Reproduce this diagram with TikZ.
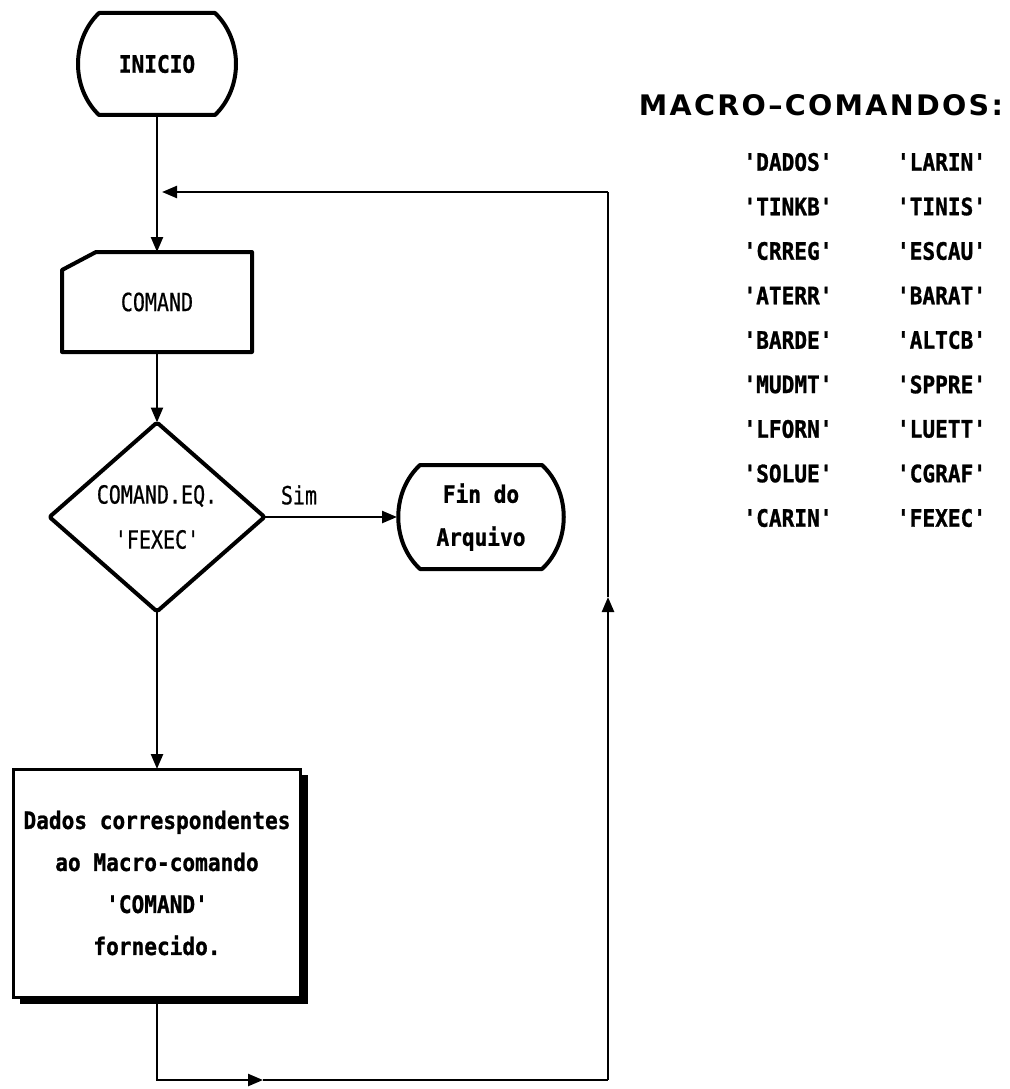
\documentclass[tikz,border=0pt]{standalone}
\usepackage{fontspec}
\usepackage{graphicx}
\usetikzlibrary{arrows.meta,calc}
\newfontfamily\monof[FakeStretch=0.8,FakeBold=0.6]{DejaVu Sans Mono}
\newfontfamily\monobf[FakeStretch=0.88,FakeBold=1]{DejaVu Sans Mono}
\newfontfamily\titlef[LetterSpace=8]{DejaVu Sans}
\newcommand{\drawterm}[2]{%
  \draw[shp] ($(#1.north west)+(#2,0)$) -- ($(#1.north east)+(-#2,0)$)
    .. controls ($(#1.north east)+(6,27)$) and ($(#1.south east)+(6,-27)$) ..
    ($(#1.south east)+(-#2,0)$) -- ($(#1.south west)+(#2,0)$)
    .. controls ($(#1.south west)+(-6,-27)$) and ($(#1.north west)+(-6,27)$) ..
    cycle;}
\begin{document}
\begin{tikzpicture}[x=1pt,y=-1pt,
  shp/.style={line width=4pt, line join=round},
  conn/.style={line width=2.4pt, -{Triangle[length=15pt,width=12pt]}},
  plain/.style={line width=2.4pt},
  reg/.style={font=\monof\fontsize{25}{45}\selectfont, align=center},
  bld/.style={font=\monobf\bfseries\fontsize{24}{42}\selectfont, align=center},
  blank/.style={inner sep=0pt, outer sep=0pt}]
\fill[white] (0,0) rectangle (1009,1089);
\useasboundingbox (0,0) rectangle (1009,1089);

% nodes
\node[blank, bld, minimum width=160pt, minimum height=102pt] (ini) at (157,64) {INICIO};
\node[blank, reg, minimum width=190pt, minimum height=100pt] (cmd) at (157,302) {COMAND};
\node[blank, reg, minimum width=215pt, minimum height=189pt] (dec) at (157,517) {COMAND.EQ.\\'FEXEC'};
\node[blank, bld, minimum width=168pt, minimum height=104pt, font=\monobf\bfseries\fontsize{24}{43}\selectfont] (fin) at (481,517) {Fin do\\Arquivo};
\node[blank, bld, draw, line width=3pt, minimum width=287pt, minimum height=228pt] (dados) at (157,883)
  {Dados correspondentes\\ao Macro-comando\\'COMAND'\\fornecido.};
\node[reg] (sim) at (299,495) {Sim};

% outlines
\drawterm{ini}{22}
\drawterm{fin}{23}
\draw[shp] ($(cmd.north west)+(0,18)$) -- ($(cmd.north west)+(34,0)$) -- (cmd.north east)
  -- (cmd.south east) -- (cmd.south west) -- cycle;
\draw[shp, rounded corners=2pt] (dec.north) -- (dec.east) -- (dec.south) -- (dec.west) -- cycle;
\fill ($(dados.north east)+(1.5,6)$) rectangle ($(dados.south east)+(7,7)$);
\fill ($(dados.south west)+(6,1.5)$) rectangle ($(dados.south east)+(7,7)$);

% loop coordinates
\coordinate (b1) at (dados.south |- 0,1080);
\coordinate (b2) at (263,1080);
\coordinate (br) at (608,1080);
\coordinate (ru) at (608,597);
\coordinate (tr) at (608,192);
\coordinate (tl) at (162,192);

% connectors
\draw[conn] (ini.south) -- (cmd.north);
\draw[conn] (cmd.south) -- (dec.north);
\draw[conn] (dec.south) -- (dados.north);
\draw[conn] (dec.east) -- (fin.west);
\draw[conn] ($(dados.south)+(0,5)$) -- (b1) -- (b2);
\draw[plain] (b2) -- (br);
\draw[conn] (br) -- (ru);
\draw[plain] (ru) -- (tr);
\draw[conn] (tr) -- (tl);

% macro list
\node (title) at (821,105) {\resizebox{364pt}{21pt}{\titlef\bfseries MACRO–COMANDOS:}};
\foreach \a/\b [count=\i from 0] in {DADOS/LARIN, TINKB/TINIS, CRREG/ESCAU, ATERR/BARAT,
    BARDE/ALTCB, MUDMT/SPPRE, LFORN/LUETT, SOLUE/CGRAF, CARIN/FEXEC} {
  \node[bld] (ma\i) at (788,162+44.5*\i) {'\a'};
  \node[bld] (mb\i) at (941.5,162+44.5*\i) {'\b'};
}
\end{tikzpicture}
\end{document}
